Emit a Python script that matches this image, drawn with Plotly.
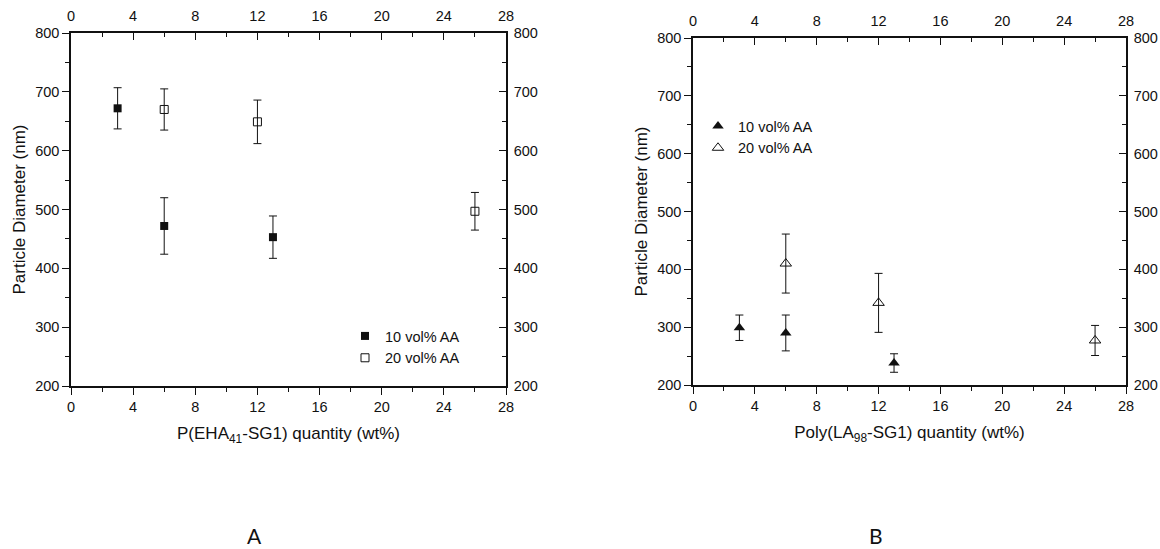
import plotly.graph_objects as go

W, H = 1160, 549
OFF = 0  # page body margin removed via post_script below

# ---- data ----
xA_10 = [3, 6, 13]
yA_10 = [672, 472, 453]
eA_10 = [35, 48, 36]
xA_20 = [6, 12, 26]
yA_20 = [670, 649, 497]
eA_20 = [35, 37, 32]

xB_10 = [3, 6, 13]
yB_10 = [299, 290, 238]
eB_10 = [22, 31, 16]
xB_20 = [6, 12, 26]
yB_20 = [410, 342, 277]
eB_20 = [51, 51, 26]

x_ticks = [0, 4, 8, 12, 16, 20, 24, 28]
y_ticks = [200, 300, 400, 500, 600, 700, 800]
x_range = [0, 28]
y_range = [200, 800]

series_names = ["10 vol% AA", "20 vol% AA"]
panel_labels = ["A", "B"]
x_titles = ["P(EHA<sub>41</sub>-SG1) quantity (wt%)", "Poly(LA<sub>98</sub>-SG1) quantity (wt%)"]
y_title = "Particle Diameter (nm)"

FONT = "Liberation Sans, Arial, sans-serif"
BLACK = "#111111"

def px_x(p):
    return (p - OFF) / W

def px_y(p):
    return 1 - (p - OFF) / H

# panel geometry in pixels (screen)
panels = [
    dict(x0=71, x1=506, y0=33, y1=386),
    dict(x0=693, x1=1126, y0=38, y1=385),
]

fig = go.Figure()

def err(arr):
    return dict(type="data", array=arr, visible=True, color=BLACK, thickness=1, width=4)

# Panel A traces
fig.add_trace(go.Scatter(x=xA_10, y=yA_10, error_y=err(eA_10), mode="markers",
                         name=series_names[0], xaxis="x", yaxis="y", legend="legend",
                         marker=dict(symbol="square", size=8, color=BLACK, line=dict(width=0))))
fig.add_trace(go.Scatter(x=xA_20, y=yA_20, error_y=err(eA_20), mode="markers",
                         name=series_names[1], xaxis="x", yaxis="y", legend="legend",
                         marker=dict(symbol="square-open", size=8, color=BLACK, line=dict(width=1))))
# Panel B traces
fig.add_trace(go.Scatter(x=xB_10, y=yB_10, error_y=err(eB_10), mode="markers",
                         name=series_names[0], xaxis="x3", yaxis="y3", legend="legend2",
                         marker=dict(symbol="triangle-up", size=10, color=BLACK, line=dict(width=0))))
fig.add_trace(go.Scatter(x=xB_20, y=yB_20, error_y=err(eB_20), mode="markers",
                         name=series_names[1], xaxis="x3", yaxis="y3", legend="legend2",
                         marker=dict(symbol="triangle-up-open", size=10, color=BLACK, line=dict(width=1))))

# invisible helper traces so the mirrored (top/right) axes are drawn
for xa, ya, xs, ys in [("x2", "y2", xA_10, yA_10), ("x4", "y4", xB_10, yB_10)]:
    fig.add_trace(go.Scatter(x=xs, y=ys, xaxis=xa, yaxis=ya, mode="markers",
                             marker=dict(opacity=0), showlegend=False, hoverinfo="skip"))

tickfont = dict(family=FONT, size=14.5, color=BLACK)
minor_x = dict(dtick=2, ticklen=4, tickwidth=1, tickcolor=BLACK, showgrid=False)
minor_y = dict(dtick=50, ticklen=4, tickwidth=1, tickcolor=BLACK, showgrid=False)
title_font = dict(family=FONT, size=17, color=BLACK)

def xaxis_common(domain, side, ticks, anchor, overlaying=None, title=None):
    d = dict(domain=domain, range=x_range, tickvals=x_ticks, side=side, ticks=ticks,
             ticklen=7, tickwidth=1, tickcolor=BLACK, showline=True, linecolor=BLACK,
             linewidth=1.5, showgrid=False, zeroline=False, tickfont=tickfont,
             anchor=anchor, minor=dict(ticks=ticks, **minor_x), fixedrange=True,
             automargin=False)
    if overlaying:
        d["overlaying"] = overlaying
        d["ticklabelstandoff"] = 4
    if title:
        d["title"] = dict(text=title, font=title_font, standoff=13)
    return d

def yaxis_common(domain, side, ticks, anchor, overlaying=None, title=None):
    d = dict(domain=domain, range=y_range, tickvals=y_ticks, side=side, ticks=ticks,
             ticklen=7, tickwidth=1, tickcolor=BLACK, showline=True, linecolor=BLACK,
             linewidth=1.5, showgrid=False, zeroline=False, tickfont=tickfont,
             anchor=anchor, minor=dict(ticks=ticks, **minor_y), fixedrange=True,
             automargin=False)
    if overlaying:
        d["overlaying"] = overlaying
        d["ticklabelstandoff"] = 3
    if title:
        d["title"] = dict(text=title, font=title_font, standoff=5)
    return d

pA, pB = panels
dxA = [px_x(pA["x0"]), px_x(pA["x1"])]
dyA = [px_y(pA["y1"]), px_y(pA["y0"])]
dxB = [px_x(pB["x0"]), px_x(pB["x1"])]
dyB = [px_y(pB["y1"]), px_y(pB["y0"])]

fig.update_layout(
    width=W, height=H,
    margin=dict(l=0, r=0, t=0, b=0, autoexpand=False),
    paper_bgcolor="white", plot_bgcolor="white",
    font=dict(family=FONT, color=BLACK),
    xaxis=xaxis_common(dxA, "bottom", "outside", "y", title=x_titles[0]),
    xaxis2=xaxis_common(dxA, "top", "inside", "y2", overlaying="x"),
    yaxis=yaxis_common(dyA, "left", "outside", "x", title=y_title),
    yaxis2=yaxis_common(dyA, "right", "inside", "x2", overlaying="y"),
    xaxis3=xaxis_common(dxB, "bottom", "outside", "y3", title=x_titles[1]),
    xaxis4=xaxis_common(dxB, "top", "inside", "y4", overlaying="x3"),
    yaxis3=yaxis_common(dyB, "left", "outside", "x3", title=y_title),
    yaxis4=yaxis_common(dyB, "right", "inside", "x4", overlaying="y3"),
    legend=dict(x=px_x(345), y=px_y(320), xanchor="left", yanchor="top",
                bgcolor="rgba(0,0,0,0)", font=dict(family=FONT, size=14.5, color=BLACK),
                itemwidth=30, tracegroupgap=0),
    legend2=dict(x=px_x(698), y=px_y(110), xanchor="left", yanchor="top",
                 bgcolor="rgba(0,0,0,0)", font=dict(family=FONT, size=14.5, color=BLACK),
                 itemwidth=30, tracegroupgap=0),
    showlegend=True,
)

for lab, xc in zip(panel_labels, [254, 876]):
    fig.add_annotation(text=lab, x=px_x(xc), y=px_y(535), xref="paper", yref="paper",
                       showarrow=False, xanchor="center", yanchor="middle",
                       font=dict(family="Lato, Open Sans, sans-serif", size=21, color=BLACK))

fig.write_html(
    "out.html",
    config={"displayModeBar": False},
    post_script="document.body.style.margin='0';document.body.style.overflow='hidden';",
)
